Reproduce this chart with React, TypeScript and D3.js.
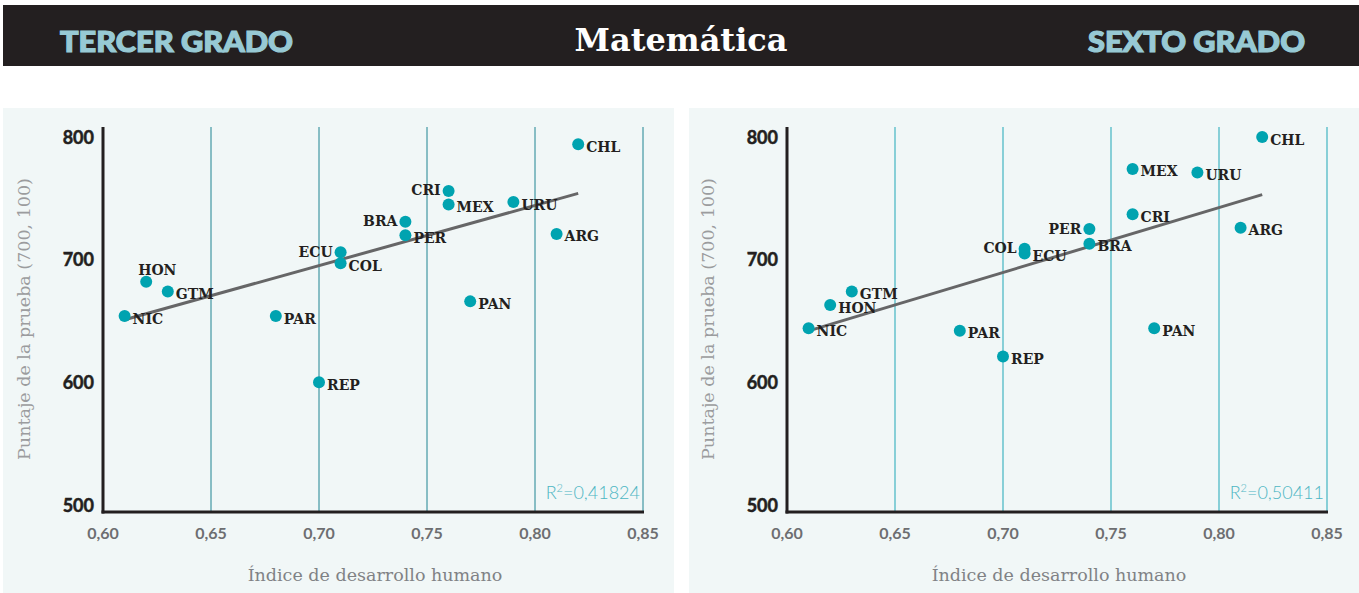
import React from "react";
import * as d3 from "d3";

// country codes and IDH (same for both grades)
const countries = ["NIC", "HON", "GTM", "PAR", "REP", "ECU", "COL", "BRA", "PER", "CRI", "MEX", "PAN", "URU", "ARG", "CHL"];
const idh = [0.61, 0.62, 0.63, 0.68, 0.70, 0.71, 0.71, 0.74, 0.74, 0.76, 0.76, 0.77, 0.79, 0.81, 0.82];

// puntajes
const scores3 = [654, 682, 674, 654, 600, 706, 697, 731, 720, 756, 745, 666, 747, 721, 794];
const scores6 = [644, 663, 674, 642, 621, 705, 709, 713, 725, 737, 774, 644, 771, 726, 800];

// label side per country
const sides3 = ["right", "top", "right", "right", "right", "left", "right", "left", "right", "left", "right", "right", "right", "right", "right"];
const sides6 = ["right", "right", "right", "right", "right", "right", "left", "right", "left", "right", "right", "right", "right", "right", "right"];

// trend line endpoints (idh, score)
const trend3: [number, number][] = [[0.61, 651], [0.82, 754]];
const trend6: [number, number][] = [[0.61, 642], [0.82, 753]];

const xTicks = [0.6, 0.65, 0.7, 0.75, 0.8, 0.85];
const yTicks = [500, 600, 700, 800];

const DARK = "#231f20";
const TEAL = "#00a3b0";

type PanelProps = {
    x0: number;
    scores: number[];
    sides: string[];
    trend: [number, number][];
    r2: string;
    gridColor: string;
    gridWidth: number;
};

function Panel({ x0, scores, sides, trend, r2, gridColor, gridWidth }: PanelProps) {
    const x = d3.scaleLinear().domain([0.6, 0.85]).range([x0, x0 + 540]);
    const y = d3.scaleLinear().domain([500, 800]).range([505, 137]);
    const top = 127;
    const bottom = 512;
    const fmt = (v: number) => v.toFixed(2).replace(".", ",");
    const line = d3.line<[number, number]>().x(d => x(d[0])).y(d => y(d[1]));

    return (
        <g>
            {xTicks.slice(1).map(t => (
                <line key={t} x1={x(t)} x2={x(t)} y1={top} y2={bottom} stroke={gridColor} strokeWidth={gridWidth} />
            ))}
            <path d={line(trend) || ""} stroke="#666667" strokeWidth={3} fill="none" />
            {idh.map((v, i) => (
                <circle key={i} cx={x(v)} cy={y(scores[i])} r={6} fill={TEAL} />
            ))}
            {countries.map((c, i) => {
                const cx = x(idh[i]);
                const cy = y(scores[i]);
                const s = sides[i];
                let tx = cx + 8, ty = cy + 7.5, anchor = "start";
                if (s === "left") { tx = cx - 8; ty = cy + 4.5; anchor = "end"; }
                if (s === "top") { tx = cx - 8; ty = cy - 7; anchor = "start"; }
                return (
                    <text key={c} x={tx} y={ty} textAnchor={anchor} fontFamily="DejaVu Serif" fontWeight={700} fontSize={14} fill={DARK}>
                        {c}
                    </text>
                );
            })}
            <line x1={x0} x2={x0} y1={top} y2={bottom + 1.5} stroke={DARK} strokeWidth={3} />
            <line x1={x0 - 1.5} x2={x(0.85) + 1} y1={bottom} y2={bottom} stroke={DARK} strokeWidth={3} />
            {yTicks.map(t => (
                <text key={t} x={x0 - 9} y={y(t) + 6.5} textAnchor="end" fontFamily="Lato" fontWeight={700} fontSize={18} fill={DARK} stroke={DARK} strokeWidth={0.5}>
                    {t}
                </text>
            ))}
            {xTicks.map(t => (
                <text key={t} x={x(t)} y={539} textAnchor="middle" fontFamily="Lato" fontWeight={700} fontSize={16} fill="#6d6e71">
                    {fmt(t)}
                </text>
            ))}
            <text x={x(0.85) - 3} y={499} textAnchor="end" fontFamily="Lato" fontWeight={300} fontSize={18} fill="#4db6c3">
                R<tspan fontSize={11} dy={-7}>2</tspan><tspan dy={7}>{r2}</tspan>
            </text>
            <text x={x0 + 272} y={581} textAnchor="middle" fontFamily="DejaVu Serif" fontSize={17.5} fill="#808285">
                Índice de desarrollo humano
            </text>
            <text transform={`translate(${x0 - 73},319) rotate(-90)`} textAnchor="middle" fontFamily="DejaVu Serif" fontSize={17.5} fill="#9b9c9e">
                Puntaje de la prueba (700, 100)
            </text>
        </g>
    );
}

export default function App() {
    return (
        <div style={{ position: "absolute", left: 0, top: 0 }}>
            <svg width={1359} height={593} style={{ display: "block", background: "#fff" }}>
                <rect x={3} y={5} width={1356} height={61} fill={DARK} />
                <text x={60} y={52} fontFamily="Lato" fontWeight={900} fontSize={28} fill="#97c9d4" textLength={233} lengthAdjust="spacingAndGlyphs" stroke="#97c9d4" strokeWidth={1.2}>TERCER GRADO</text>
                <text x={681} y={51} textAnchor="middle" fontFamily="DejaVu Serif" fontWeight={700} fontSize={32} fill="#fff">Matemática</text>
                <text x={1088} y={52} fontFamily="Lato" fontWeight={900} fontSize={28} fill="#97c9d4" textLength={217} lengthAdjust="spacingAndGlyphs" stroke="#97c9d4" strokeWidth={1.2}>SEXTO GRADO</text>
                <rect x={3} y={108} width={671} height={485} fill="#f1f7f7" />
                <rect x={689} y={108} width={670} height={485} fill="#f1f7f7" />
                <Panel x0={103} scores={scores3} sides={sides3} trend={trend3} r2="=0,41824" gridColor="#1f8492" gridWidth={1} />
                <Panel x0={787} scores={scores6} sides={sides6} trend={trend6} r2="=0,50411" gridColor="#7ccad3" gridWidth={1.8} />
            </svg>
        </div>
    );
}
